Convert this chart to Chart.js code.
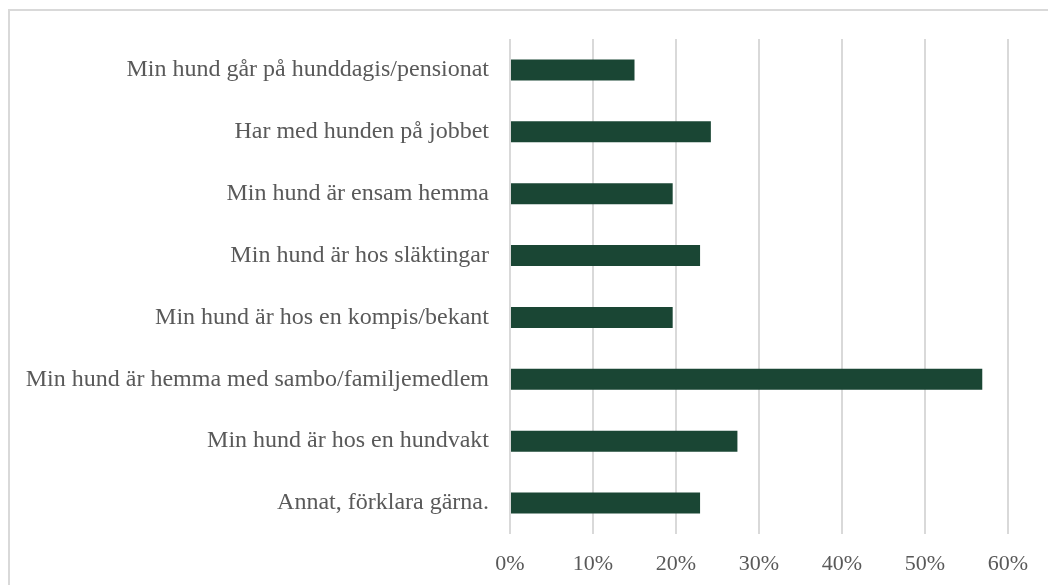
<!DOCTYPE html>
<html>
<head>
<meta charset="utf-8">
<script src="https://cdn.jsdelivr.net/npm/chart.js@4/dist/chart.umd.min.js"></script>
<style>
  html, body { margin: 0; padding: 0; background: #fff; }
  #wrap { position: relative; width: 1048px; height: 585px; overflow: hidden; }
  #frame {
    position: absolute; left: 8px; top: 9px; width: 1060px; height: 600px;
    border: 2px solid #d9d9d9; box-sizing: border-box;
  }
  #chart { position: absolute; left: 0; top: 0; }
</style>
</head>
<body>
<div id="wrap">
  <div id="frame"></div>
  <canvas id="chart" width="1048" height="585"></canvas>
</div>
<script>
const categories = [
  "Min hund går på hunddagis/pensionat",
  "Har med hunden på jobbet",
  "Min hund är ensam hemma",
  "Min hund är hos släktingar",
  "Min hund är hos en kompis/bekant",
  "Min hund är hemma med sambo/familjemedlem",
  "Min hund är hos en hundvakt",
  "Annat, förklara gärna.",
];

const shares = [15.0, 24.2, 19.6, 22.9, 19.6, 56.9, 27.4, 22.9];

const xTicks = [0, 10, 20, 30, 40, 50, 60];

const BAR_COLOR = "#1a4634";
const TEXT_COLOR = "#595959";
const GRID_COLOR = "#d9d9d9";
const FONT = "'Liberation Serif', 'Times New Roman', serif";

var ctx = document.getElementById("chart");

var data = {
  labels: categories,
  datasets: [
    {
      label: "Andel",
      data: shares,
      backgroundColor: BAR_COLOR,
      borderWidth: 0,
      categoryPercentage: 1,
      barPercentage: 0.34,
    },
  ],
};

var config = {
  type: "bar",
  data: data,
  options: {
    indexAxis: "y",
    responsive: false,
    animation: false,
    layout: { padding: { top: 39, right: 40, bottom: 0, left: 0 } },
    plugins: {
      legend: { display: false },
      tooltip: { enabled: false },
    },
    scales: {
      x: {
        min: xTicks[0],
        max: xTicks[xTicks.length - 1],
        afterBuildTicks: function (scale) {
          scale.ticks = xTicks.map(function (v) { return { value: v }; });
        },
        afterFit: function (scale) { scale.height = 51; },
        grid: { color: GRID_COLOR, lineWidth: 2, drawTicks: false },
        border: { display: false },
        ticks: {
          padding: 17,
          color: TEXT_COLOR,
          font: { family: FONT, size: 22 },
          callback: function (v) { return v + "%"; },
        },
      },
      y: {
        afterFit: function (scale) { scale.width = 510; },
        grid: { display: false, drawTicks: false },
        border: { display: false },
        ticks: {
          padding: 21,
          color: TEXT_COLOR,
          font: { family: FONT, size: 24 },
        },
      },
    },
  },
};

var chartBars = new Chart(ctx, config);
</script>
</body>
</html>
